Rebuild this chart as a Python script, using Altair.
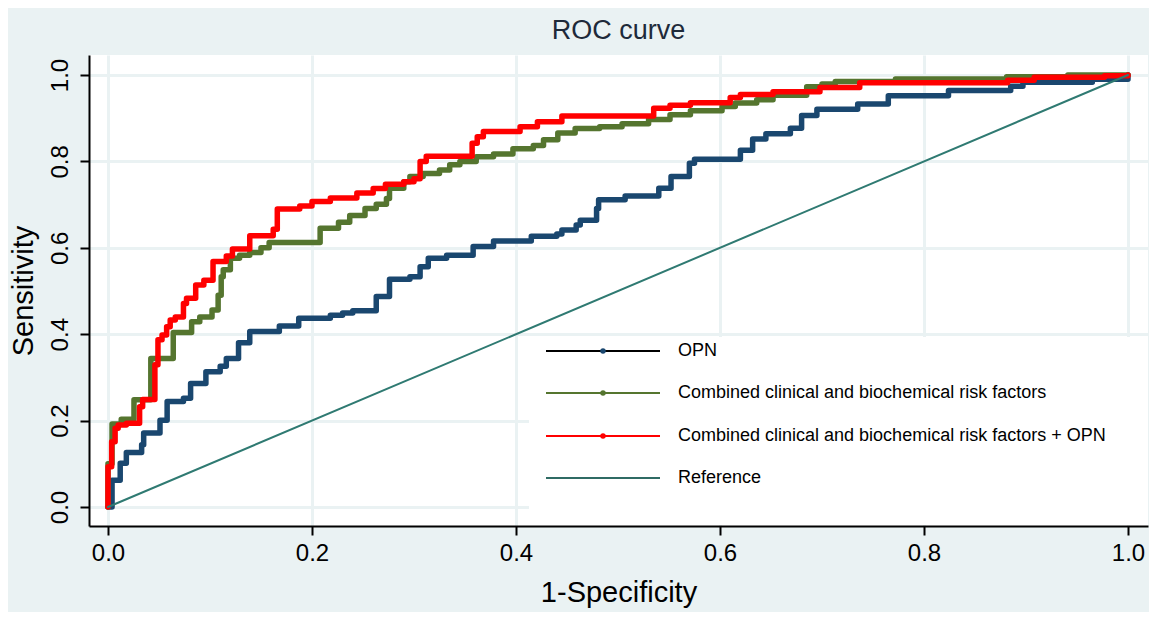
import altair as alt
import pandas as pd

# ---- data ----
series_names = [
    "OPN",
    "Combined clinical and biochemical risk factors",
    "Combined clinical and biochemical risk factors + OPN",
    "Reference",
]
series_colors = ["#1A476F", "#55752F", "#FF0000", "#2F7A72"]
legend_line_colors = ["#000000", "#55752F", "#FF0000", "#2F6B64"]

opn_fpr = [0, 0.004, 0.012, 0.018, 0.033, 0.035, 0.051, 0.058, 0.074, 0.081,
           0.096, 0.110, 0.116, 0.128, 0.139, 0.168, 0.187, 0.218, 0.230, 0.240,
           0.263, 0.276, 0.296, 0.306, 0.314, 0.332, 0.358, 0.378, 0.415, 0.440,
           0.445, 0.459, 0.463, 0.479, 0.481, 0.507, 0.540, 0.552, 0.570, 0.575,
           0.620, 0.632, 0.645, 0.669, 0.680, 0.695, 0.735, 0.765, 0.824, 0.885,
           0.897, 0.965, 1.0]
opn_tpr = [0, 0.062, 0.101, 0.126, 0.144, 0.171, 0.201, 0.244, 0.252, 0.286,
           0.313, 0.326, 0.344, 0.380, 0.406, 0.419, 0.437, 0.444, 0.449, 0.454,
           0.487, 0.527, 0.533, 0.556, 0.576, 0.583, 0.603, 0.616, 0.627, 0.632,
           0.641, 0.653, 0.664, 0.691, 0.711, 0.720, 0.738, 0.765, 0.796, 0.805,
           0.826, 0.852, 0.864, 0.877, 0.906, 0.921, 0.933, 0.952, 0.964, 0.974,
           0.983, 0.990, 1.0]

clin_fpr = [0, 0.0, 0.004, 0.013, 0.0255, 0.042, 0.064, 0.082, 0.090, 0.102,
            0.108, 0.111, 0.113, 0.120, 0.129, 0.139, 0.150, 0.158, 0.208, 0.226,
            0.237, 0.252, 0.263, 0.273, 0.276, 0.290, 0.296, 0.309, 0.325, 0.335,
            0.345, 0.361, 0.378, 0.397, 0.417, 0.427, 0.441, 0.458, 0.482, 0.504,
            0.530, 0.551, 0.571, 0.602, 0.615, 0.636, 0.652, 0.685, 0.700, 0.713,
            0.772, 0.881, 0.941, 1.0]
clin_tpr = [0, 0.10, 0.192, 0.203, 0.248, 0.344, 0.404, 0.429, 0.44, 0.456,
            0.49, 0.533, 0.549, 0.576, 0.583, 0.589, 0.60, 0.612, 0.645, 0.659,
            0.675, 0.691, 0.701, 0.714, 0.738, 0.753, 0.765, 0.772, 0.78, 0.792,
            0.80, 0.811, 0.817, 0.829, 0.837, 0.85, 0.866, 0.876, 0.880, 0.887,
            0.897, 0.908, 0.917, 0.927, 0.935, 0.943, 0.953, 0.973, 0.979, 0.985,
            0.991, 0.996, 1.0, 1.0]

comb_fpr = [0, 0, 0.0036, 0.007, 0.010, 0.018, 0.031, 0.034, 0.046, 0.049,
            0.053, 0.0575, 0.061, 0.066, 0.074, 0.077, 0.086, 0.094, 0.103, 0.116,
            0.122, 0.139, 0.162, 0.166, 0.188, 0.200, 0.218, 0.244, 0.260, 0.272,
            0.290, 0.300, 0.306, 0.312, 0.357, 0.362, 0.368, 0.404, 0.421, 0.445,
            0.535, 0.551, 0.571, 0.610, 0.620, 0.652, 0.698, 0.737, 0.882, 0.908,
            0.977, 1.0]
comb_tpr = [0, 0.093, 0.151, 0.182, 0.19, 0.194, 0.232, 0.249, 0.329, 0.387,
            0.398, 0.417, 0.433, 0.44, 0.471, 0.483, 0.514, 0.525, 0.568, 0.581,
            0.597, 0.628, 0.643, 0.690, 0.697, 0.707, 0.715, 0.727, 0.737, 0.747,
            0.753, 0.760, 0.80, 0.812, 0.842, 0.857, 0.869, 0.88, 0.892, 0.905,
            0.923, 0.93, 0.936, 0.948, 0.955, 0.961, 0.971, 0.982, 0.988, 0.995,
            0.998, 1.0]

ref_fpr = [0.0, 1.0]
ref_tpr = [0.0, 1.0]

tick_values = [0.0, 0.2, 0.4, 0.6, 0.8, 1.0]

# ---- build table ----
rows = []
for name, xs, ys in [
    (series_names[0], opn_fpr, opn_tpr),
    (series_names[1], clin_fpr, clin_tpr),
    (series_names[2], comb_fpr, comb_tpr),
    (series_names[3], ref_fpr, ref_tpr),
]:
    for i, (a, b) in enumerate(zip(xs, ys)):
        rows.append({"series": name, "i": i, "fpr": a, "tpr": b})
df = pd.DataFrame(rows)

FONT = "Liberation Sans"
BG = "#EAF2F3"
X_DOM = [-0.0186, 1.0196]
Y_DOM = [-0.044, 1.0463]
W, H = 1059, 471

common_axis = dict(
    values=tick_values, format=".1f", grid=True, gridColor=BG, gridWidth=3,
    domainColor="black", domainWidth=2, tickColor="black", tickWidth=2, tickSize=9,
    labelFont=FONT, labelFontSize=24, labelColor="black", labelFlush=False,
    labelOverlap=False, titleFont=FONT, titleFontSize=29, titleFontWeight="normal",
    titleColor="black",
)
xaxis = alt.Axis(title="1-Specificity", labelPadding=6, titlePadding=13, **common_axis)
yaxis = alt.Axis(title="Sensitivity", labelAngle=270, labelAlign="center",
                 labelBaseline="bottom", labelPadding=8, titlePadding=10, **common_axis)

def xenc():
    return alt.X("fpr:Q", scale=alt.Scale(domain=X_DOM, nice=False, zero=False), axis=xaxis)

def yenc():
    return alt.Y("tpr:Q", scale=alt.Scale(domain=Y_DOM, nice=False, zero=False), axis=yaxis)

layers = []
for k, name in enumerate(series_names):
    sw = 2 if name == "Reference" else 5.5
    layer = alt.Chart(df).transform_filter(alt.datum.series == name).mark_line(
        interpolate="linear" if name == "Reference" else "step-after",
        strokeWidth=sw, strokeCap="round", strokeJoin="round",
        color=series_colors[k], clip=True,
    ).encode(x=xenc(), y=yenc(), order=alt.Order("i:Q"))
    layers.append(layer)

# legend box (white) inside the plot area, lower right
one = pd.DataFrame({"a": [0]})
layers.append(
    alt.Chart(one).mark_rect(color="white").encode(
        x=alt.value(440), x2=alt.value(W), y=alt.value(282), y2=alt.value(H - 1)
    )
)
row_y = [296, 338, 381, 423]
for k, name in enumerate(series_names):
    d = pd.DataFrame({"label": [name]})
    layers.append(
        alt.Chart(d).mark_rule(color=legend_line_colors[k], strokeWidth=2).encode(
            x=alt.value(457), x2=alt.value(571), y=alt.value(row_y[k])
        )
    )
    if name != "Reference":
        layers.append(
            alt.Chart(d).mark_circle(color=series_colors[k], opacity=1, size=30).encode(
                x=alt.value(514), y=alt.value(row_y[k])
            )
        )
    layers.append(
        alt.Chart(d).mark_text(align="left", baseline="middle", font=FONT,
                               fontSize=18, color="black").encode(
            x=alt.value(589), y=alt.value(row_y[k]), text="label:N"
        )
    )

chart = alt.layer(*layers).properties(
    width=W, height=H,
    title=alt.TitleParams("ROC curve", font=FONT, fontSize=27, fontWeight="normal",
                          color="#1E2A3A", offset=10, anchor="middle"),
    background=BG,
    autosize=alt.AutoSizeParams(type="none"),
    padding={"left": 81, "top": 47, "right": 1, "bottom": 86},
).configure_view(fill="white", stroke=None)

chart.save("out.html", embed_options={"renderer": "svg", "actions": False})
